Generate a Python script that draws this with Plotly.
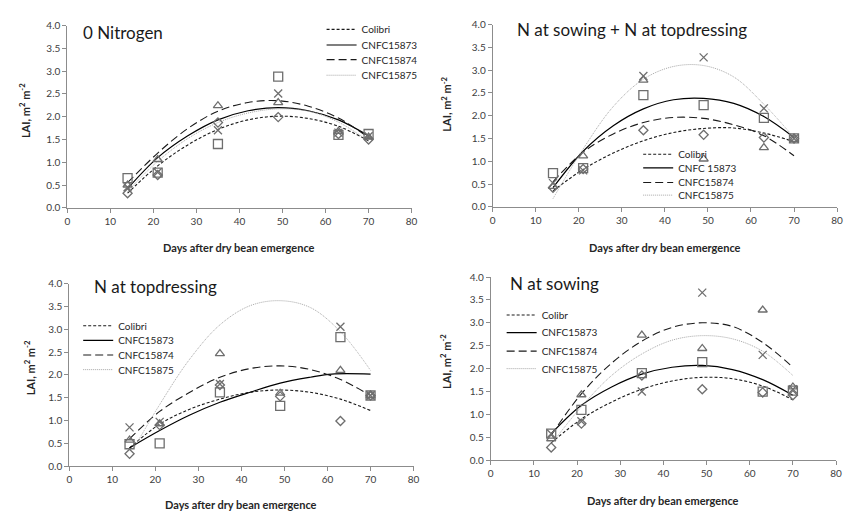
import plotly.graph_objects as go

W, H = 848, 515

# ---------------- data ----------------
days = [14, 21, 35, 49, 63, 70]
fit_days = [14, 21, 28, 35, 42, 49, 56, 63, 70]

cultivars = ["Colibri", "CNFC15873", "CNFC15874", "CNFC15875"]
panel_titles = ["0 Nitrogen", "N at sowing + N at topdressing", "N at topdressing", "N at sowing"]
legend_labels_p1 = ["Colibri", "CNFC15873", "CNFC15874", "CNFC15875"]
legend_labels_p2 = ["Colibri", "CNFC 15873", "CNFC15874", "CNFC15875"]
legend_labels_p3 = ["Colibri", "CNFC15873", "CNFC15874", "CNFC15875"]
legend_labels_p4 = ["Colibr", "CNFC15873", "CNFC15874", "CNFC15875"]

x_ticks = [0, 10, 20, 30, 40, 50, 60, 70, 80]
y_ticks = [0.0, 0.5, 1.0, 1.5, 2.0, 2.5, 3.0, 3.5, 4.0]

# Panel 1: 0 Nitrogen (observed)
p1_colibri = [0.32, 0.72, 1.87, 1.99, 1.62, 1.50]
p1_c15873 = [0.65, 0.77, 1.40, 2.88, 1.60, 1.62]
p1_c15874 = [0.50, 1.06, 2.24, 2.31, 1.68, 1.55]
p1_c15875 = [0.45, 0.78, 1.70, 2.51, 1.65, 1.57]
# Panel 1 trend lines
p1_colibri_fit = [0.32, 0.92, 1.38, 1.72, 1.93, 2.01, 1.96, 1.79, 1.47]
p1_c15873_fit = [0.42, 1.10, 1.58, 1.93, 2.13, 2.20, 2.13, 1.93, 1.58]
p1_c15874_fit = [0.55, 1.20, 1.74, 2.12, 2.31, 2.35, 2.23, 1.97, 1.54]
p1_c15875_fit = [0.36, 1.02, 1.52, 1.87, 2.08, 2.17, 2.12, 1.88, 1.46]

# Panel 2: N at sowing + N at topdressing
p2_colibri = [0.42, 0.83, 1.68, 1.58, 1.52, 1.50]
p2_c15873 = [0.74, 0.85, 2.45, 2.23, 1.95, 1.50]
p2_c15874 = [0.45, 1.12, 2.78, 1.05, 1.30, 1.48]
p2_c15875 = [0.52, 0.80, 2.87, 3.28, 2.16, 1.50]
p2_colibri_fit = [0.35, 0.82, 1.18, 1.45, 1.63, 1.72, 1.73, 1.62, 1.43]
p2_c15873_fit = [0.42, 1.22, 1.78, 2.15, 2.35, 2.38, 2.27, 1.98, 1.52]
p2_c15874_fit = [0.55, 1.20, 1.60, 1.85, 1.96, 1.94, 1.80, 1.56, 1.12]
p2_c15875_fit = [0.18, 1.27, 2.20, 2.80, 3.08, 3.10, 2.85, 2.25, 1.52]

# Panel 3: N at topdressing
p3_colibri = [0.27, 0.90, 1.78, 1.53, 0.99, 1.55]
p3_c15873 = [0.48, 0.50, 1.62, 1.32, 2.83, 1.55]
p3_c15874 = [0.57, 0.93, 2.47, 1.60, 2.10, 1.55]
p3_c15875 = [0.85, 0.97, 1.80, None, 3.06, 1.55]
p3_colibri_fit = [0.40, 0.92, 1.25, 1.47, 1.62, 1.67, 1.62, 1.47, 1.22]
p3_c15873_fit_days = [14, 21, 28, 35, 42, 49, 56, 61, 70]
p3_c15873_fit = [0.40, 0.78, 1.12, 1.40, 1.62, 1.82, 1.95, 2.02, 2.02]
p3_c15874_fit = [0.60, 1.20, 1.62, 1.95, 2.14, 2.20, 2.12, 1.90, 1.55]
p3_c15875_fit_days = [15, 21, 28, 35, 42, 49, 56, 63, 70]
p3_c15875_fit = [0.39, 1.35, 2.35, 3.10, 3.52, 3.63, 3.48, 2.95, 2.10]

# Panel 4: N at sowing
p4_colibri = [0.28, 0.80, 1.85, 1.55, 1.48, 1.42]
p4_c15873 = [0.58, 1.10, 1.90, 2.14, 1.50, 1.52]
p4_c15874 = [0.47, 1.43, 2.73, 2.44, 3.28, 1.60]
p4_c15875 = [0.58, 0.85, 1.50, 3.66, 2.30, 1.55]
p4_colibri_fit = [0.38, 0.90, 1.27, 1.55, 1.73, 1.81, 1.78, 1.62, 1.32]
p4_c15873_fit = [0.58, 1.20, 1.60, 1.88, 2.03, 2.07, 1.98, 1.76, 1.42]
p4_c15874_fit = [0.55, 1.45, 2.12, 2.60, 2.90, 3.00, 2.92, 2.57, 2.03]
p4_c15875_fit = [0.35, 1.17, 1.85, 2.32, 2.62, 2.72, 2.65, 2.38, 1.85]

# ---------------- styles ----------------
FONT = "Lato"
marker_symbols = ["diamond-open", "square-open", "triangle-up-open", "x-thin-open"]
marker_sizes = [7, 9, 8, 8]
marker_color = "#6e6e6e"
line_styles = [
    dict(color="#1a1a1a", width=1.1, dash="3px,2px"),
    dict(color="#000000", width=1.2, dash="solid"),
    dict(color="#1a1a1a", width=1.1, dash="8px,4px"),
    dict(color="#a6a6a6", width=1.0, dash="1px,1px"),
]

# panel plot-area pixel boxes (left, top, right, bottom)
boxes = [(65, 19, 413, 206), (495, 18, 843, 205), (67, 284, 415, 471), (493, 277, 842, 465)]

panels = [
    dict(obs=[p1_colibri, p1_c15873, p1_c15874, p1_c15875],
         fits=[(fit_days, p1_colibri_fit), (fit_days, p1_c15873_fit), (fit_days, p1_c15874_fit), (fit_days, p1_c15875_fit)],
         labels=legend_labels_p1),
    dict(obs=[p2_colibri, p2_c15873, p2_c15874, p2_c15875],
         fits=[(fit_days, p2_colibri_fit), (fit_days, p2_c15873_fit), (fit_days, p2_c15874_fit), (fit_days, p2_c15875_fit)],
         labels=legend_labels_p2),
    dict(obs=[p3_colibri, p3_c15873, p3_c15874, p3_c15875],
         fits=[(fit_days, p3_colibri_fit), (p3_c15873_fit_days, p3_c15873_fit), (fit_days, p3_c15874_fit), (p3_c15875_fit_days, p3_c15875_fit)],
         labels=legend_labels_p3),
    dict(obs=[p4_colibri, p4_c15873, p4_c15874, p4_c15875],
         fits=[(fit_days, p4_colibri_fit), (fit_days, p4_c15873_fit), (fit_days, p4_c15874_fit), (fit_days, p4_c15875_fit)],
         labels=legend_labels_p4),
]

# legend placement: text-left px minus 40, and row centre px for each item
legend_left = [322, 642, 76, 504]
legend_rows = [(23, 39, 54, 70), (151, 165, 180, 193), (327, 342, 357, 372), (316, 334, 353, 371)]
title_pos = [(79, 26), (517, 23), (90, 287), (510, 284)]
xtitle_y = [247, 247, 510, 506]
ytitle_pos = [(22, 106), (448, 100), (27, 370), (448, 364)]

fig = go.Figure()
layout = dict(
    width=W, height=H, margin=dict(l=0, r=0, t=0, b=0),
    paper_bgcolor="white", plot_bgcolor="white",
    font=dict(family=FONT, size=10, color="#404040"),
    showlegend=True, annotations=[],
)

def px2x(p):
    return p / W

def px2y(p):
    return 1 - p / H

for i, (panel, box) in enumerate(zip(panels, boxes)):
    n = i + 1
    xa = "x" if n == 1 else f"x{n}"
    ya = "y" if n == 1 else f"y{n}"
    l, t, r, b = box
    layout["xaxis" if n == 1 else f"xaxis{n}"] = dict(
        domain=[px2x(l), px2x(r)], anchor=ya, range=[0, 80],
        tickvals=x_ticks, ticktext=[str(v) for v in x_ticks],
        showline=True, linecolor="#8c8c8c", linewidth=1,
        ticks="outside", ticklen=4, tickcolor="#8c8c8c",
        showgrid=False, zeroline=False, fixedrange=True,
        tickfont=dict(family=FONT, size=10, color="#404040"),
    )
    layout["yaxis" if n == 1 else f"yaxis{n}"] = dict(
        domain=[px2y(b), px2y(t)], anchor=xa, range=[0, 4],
        tickvals=y_ticks, ticktext=[f"{v:.1f}" for v in y_ticks],
        showline=True, linecolor="#8c8c8c", linewidth=1,
        ticks="outside", ticklen=4, tickcolor="#8c8c8c",
        showgrid=False, zeroline=False, fixedrange=True,
        tickfont=dict(family=FONT, size=10, color="#404040"),
    )
    # trend lines, each with its own legend box so rows can be spaced like the original
    for k in range(4):
        idx = 4 * i + k + 1
        lg = "legend" if idx == 1 else f"legend{idx}"
        layout[lg] = dict(
            x=px2x(legend_left[i]), y=px2y(legend_rows[i][k]),
            xanchor="left", yanchor="middle",
            bgcolor="rgba(0,0,0,0)", borderwidth=0,
            font=dict(family=FONT, size=10, color="#262626"),
            itemwidth=30,
        )
        fx, fy = panel["fits"][k]
        fig.add_trace(go.Scatter(
            x=fx, y=fy, mode="lines", name=panel["labels"][k],
            line=dict(shape="spline", smoothing=1.0, **line_styles[k]),
            xaxis=xa, yaxis=ya, legend=lg, showlegend=True, hoverinfo="skip",
        ))
    # observed markers
    for k in range(4):
        fig.add_trace(go.Scatter(
            x=days, y=panel["obs"][k], mode="markers", name=cultivars[k],
            marker=dict(symbol=marker_symbols[k], size=marker_sizes[k], color=marker_color,
                        line=dict(color=marker_color, width=1.3)),
            xaxis=xa, yaxis=ya, showlegend=False, cliponaxis=False,
        ))
    # panel title
    tx, ty = title_pos[i]
    layout["annotations"].append(dict(
        text=panel_titles[i], x=px2x(tx), y=px2y(ty), xref="paper", yref="paper",
        xanchor="left", yanchor="middle", showarrow=False,
        font=dict(family=FONT, size=17, color="#1a1a1a"),
    ))
    # x axis title
    layout["annotations"].append(dict(
        text="<b>Days after dry bean emergence</b>", x=px2x((l + r) / 2), y=px2y(xtitle_y[i]),
        xref="paper", yref="paper", xanchor="center", yanchor="middle", showarrow=False,
        font=dict(family=FONT, size=11, color="#262626"),
    ))
    # y axis title
    yx, yy = ytitle_pos[i]
    layout["annotations"].append(dict(
        text="<b>LAI, m<sup>2</sup> m<sup>-2</sup></b>", x=px2x(yx), y=px2y(yy),
        xref="paper", yref="paper", xanchor="center", yanchor="middle", showarrow=False,
        textangle=-90, font=dict(family=FONT, size=11, color="#262626"),
    ))

fig.update_layout(**layout)
fig.write_html("out.html")
